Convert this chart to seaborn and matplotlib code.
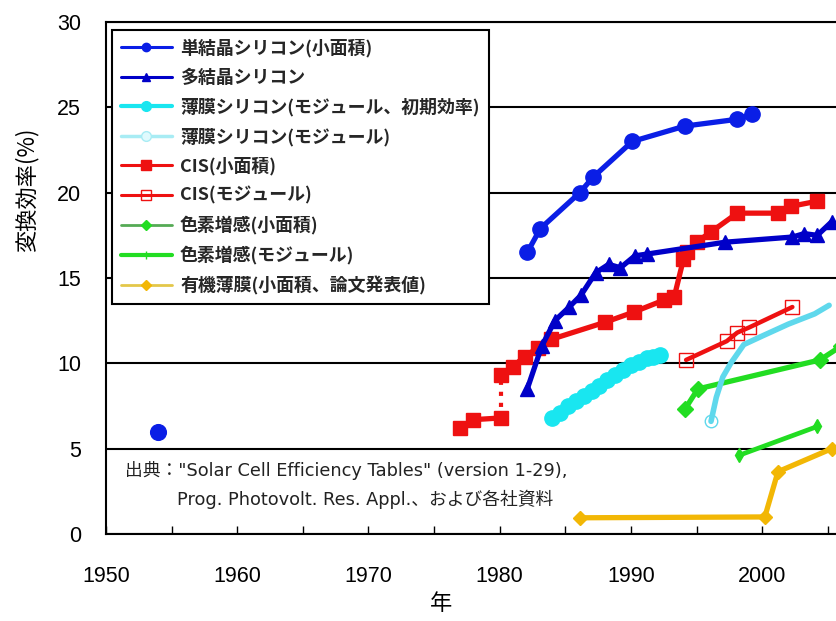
import numpy as np
import pandas as pd
import matplotlib
matplotlib.use("Agg")
import matplotlib.pyplot as plt
from matplotlib.lines import Line2D
from matplotlib.ticker import MultipleLocator
import seaborn as sns

# ---------------- data ----------------
mono_year = [1982.1, 1983.1, 1986.1, 1987.1, 1990.1, 1994.1, 1998.1, 1999.2]
mono_eff = [16.5, 17.9, 20.0, 20.9, 23.0, 23.9, 24.3, 24.6]
mono_early_year = [1954]
mono_early_eff = [6.0]

multi_year = [1982.1, 1983.2, 1984.2, 1985.3, 1986.2, 1987.3, 1988.3, 1989.2, 1990.3, 1991.2,
              1997.2, 2002.3, 2003.2, 2004.2, 2005.3]
multi_eff = [8.5, 11.0, 12.5, 13.3, 14.0, 15.3, 15.8, 15.6, 16.3, 16.4,
             17.1, 17.4, 17.6, 17.5, 18.3]

tfsi_init_year = [1984.0, 1984.6, 1985.2, 1985.8, 1986.4, 1987.0, 1987.6, 1988.2, 1988.8,
                  1989.4, 1990.0, 1990.6, 1991.2, 1991.7, 1992.2]
tfsi_init_eff = [6.8, 7.1, 7.5, 7.8, 8.1, 8.4, 8.7, 9.0, 9.3, 9.6, 9.9, 10.1, 10.3, 10.4, 10.5]

tfsi_mod_year = [1996.1, 1996.5, 1997.0, 1997.6, 1998.6, 2000.0, 2002.0, 2004.0, 2005.1]
tfsi_mod_eff = [6.6, 8.0, 9.2, 10.0, 11.1, 11.6, 12.3, 12.9, 13.4]

cis_a_year = [1977.0, 1978.0, 1980.1]
cis_a_eff = [6.2, 6.7, 6.8]
cis_b_year = [1980.1, 1981.0, 1981.9, 1982.9, 1983.9, 1988.0, 1990.2, 1992.5, 1993.3,
              1994.0, 1994.3, 1995.0, 1996.1, 1998.1, 2001.2, 2002.2, 2004.2]
cis_b_eff = [9.3, 9.8, 10.4, 10.9, 11.4, 12.4, 13.0, 13.7, 13.9,
             16.1, 16.5, 17.1, 17.7, 18.8, 18.8, 19.2, 19.5]

cis_mod_year = [1994.2, 1997.3, 1998.1, 1999.0, 2002.3]
cis_mod_eff = [10.2, 11.3, 11.8, 12.1, 13.3]

dye_small_year = [1994.1, 1995.1, 2004.4, 2006.0]
dye_small_eff = [7.3, 8.5, 10.2, 11.0]

dye_mod_year = [1998.2, 2004.2]
dye_mod_eff = [4.6, 6.3]

opv_year = [1986.1, 2000.2, 2001.2, 2005.3]
opv_eff = [0.95, 1.0, 3.65, 5.0]

labels = ["単結晶シリコン(小面積)", "多結晶シリコン", "薄膜シリコン(モジュール、初期効率)",
          "薄膜シリコン(モジュール)", "CIS(小面積)", "CIS(モジュール)",
          "色素増感(小面積)", "色素増感(モジュール)", "有機薄膜(小面積、論文発表値)"]
y_ticks = [0, 5, 10, 15, 20, 25, 30]
x_ticks = [1950, 1960, 1970, 1980, 1990, 2000]

# ---------------- style ----------------
sns.set_theme(style="white")
plt.rcParams["font.family"] = ["Liberation Sans", "Noto Sans CJK JP", "DejaVu Sans"]
JP = ["Noto Sans CJK JP", "DejaVu Sans"]
NOTE = ["DejaVu Sans", "Noto Sans CJK JP"]

C_MONO = "#0a1ee6"
C_MULTI = "#0000c8"
C_CYAN = "#19e6f0"
C_CYAN2 = "#5fd8ec"
C_RED = "#ee1111"
C_GREEN = "#22dd22"
C_ORANGE = "#f2b705"

fig = plt.figure(figsize=(8.37, 6.21), dpi=100)
ax = fig.add_axes([106 / 837, 87 / 621, 731 / 837, 512 / 621])

LW = 3.8
MS = 9.5


def line(x, y, color, marker, ms=MS, lw=LW, mfc=None, ls="-", mew=1.0):
    df = pd.DataFrame({"x": x, "y": y})
    sns.lineplot(data=df, x="x", y="y", ax=ax, sort=False, estimator=None,
                 color=color, marker=marker, markersize=ms, linewidth=lw,
                 linestyle=ls, markeredgecolor=color,
                 markerfacecolor=(color if mfc is None else mfc),
                 markeredgewidth=mew, legend=False)


line(opv_year, opv_eff, C_ORANGE, "D", ms=7)
line(dye_mod_year, dye_mod_eff, C_GREEN, "d", ms=7, lw=3.4)
line(dye_small_year, dye_small_eff, C_GREEN, "D", ms=8)
line(tfsi_init_year, tfsi_init_eff, C_CYAN, "o", ms=11)
line(tfsi_mod_year, tfsi_mod_eff, C_CYAN2, None, lw=4.0)
line(tfsi_mod_year[:1], tfsi_mod_eff[:1], C_CYAN2, "o", ms=9, mfc="none", lw=0)
line(cis_mod_year, cis_mod_eff, C_RED, "s", ms=10, mfc="none", lw=3.2, mew=1.0)
line(cis_a_year, cis_a_eff, C_RED, "s", ms=10)
line([cis_a_year[-1], cis_b_year[0]], [cis_a_eff[-1], cis_b_eff[0]], C_RED, None, lw=3.0, ls=":")
line(cis_b_year, cis_b_eff, C_RED, "s", ms=10)
line(multi_year, multi_eff, C_MULTI, "^", ms=10)
line(mono_year, mono_eff, C_MONO, "o", ms=11)
sns.scatterplot(x=mono_early_year, y=mono_early_eff, ax=ax, color=C_MONO, s=130,
                edgecolor=C_MONO, legend=False)

# ---------------- axes ----------------
ax.set_xlim(1950, 2005.7)
ax.set_ylim(0, 30)
ax.set_yticks(y_ticks)
ax.set_xticks(x_ticks)
ax.xaxis.set_minor_locator(MultipleLocator(5))
ax.grid(axis="y", color="black", linewidth=1.5)
ax.grid(axis="x", visible=False)
ax.set_axisbelow(True)
for s in ["left", "bottom", "top"]:
    ax.spines[s].set_visible(True)
    ax.spines[s].set_color("black")
    ax.spines[s].set_linewidth(1.5)
ax.spines["right"].set_visible(False)
ax.tick_params(axis="x", which="both", direction="in", length=6, width=1, colors="black",
               labelsize=15.5, pad=23, bottom=True)
ax.tick_params(axis="y", length=0, labelsize=15.5, pad=18, colors="black")

ax.set_xlabel("年", fontsize=16, family=JP, color="black", va="center")
ax.xaxis.set_label_coords((441 - 106) / 731, -(603 - 534) / 512)
ax.set_ylabel("変換効率(%)", fontsize=16, family=JP, color="black", va="center")
ax.yaxis.set_label_coords(-(106 - 27) / 731, (534 - 190) / 512)

# annotation
ax.text((125 - 106) / 731, (534 - 470) / 512,
        "出典：\"Solar Cell Efficiency Tables\" (version 1-29),",
        transform=ax.transAxes, fontsize=12.8, family=NOTE, va="center", ha="left", color="#222222")
ax.text((177 - 106) / 731, (534 - 499) / 512,
        "Prog. Photovolt. Res. Appl.、および各社資料",
        transform=ax.transAxes, fontsize=12.8, family=NOTE, va="center", ha="left", color="#222222")

# legend
handles = [
    Line2D([], [], color=C_MONO, marker="o", ms=6, lw=2.2),
    Line2D([], [], color=C_MULTI, marker="^", ms=6, lw=2.2),
    Line2D([], [], color=C_CYAN, marker="o", ms=7, lw=3),
    Line2D([], [], color="#a8ecf4", marker="o", ms=7, mfc="#e0fafd", lw=2.5),
    Line2D([], [], color=C_RED, marker="s", ms=7, lw=2.2),
    Line2D([], [], color=C_RED, marker="s", ms=7, mfc="none", lw=2.2),
    Line2D([], [], color="#55aa55", marker="D", ms=5, mfc=C_GREEN, mec=C_GREEN, lw=2),
    Line2D([], [], color=C_GREEN, marker="+", ms=6, lw=3),
    Line2D([], [], color="#e3c74a", marker="D", ms=5, mfc=C_ORANGE, mec=C_ORANGE, lw=2),
]
leg = ax.legend(handles, labels, loc="upper left",
                bbox_to_anchor=((112 - 106) / 731, (534 - 30) / 512), borderaxespad=0,
                frameon=True, fancybox=False, edgecolor="black", framealpha=1,
                prop={"family": JP, "size": 12.9, "weight": "bold"},
                handlelength=2.85, handletextpad=0.45, labelspacing=0.62,
                borderpad=0.5)
leg.get_frame().set_linewidth(1.5)

fig.savefig("out.png", dpi=100, facecolor="white")
